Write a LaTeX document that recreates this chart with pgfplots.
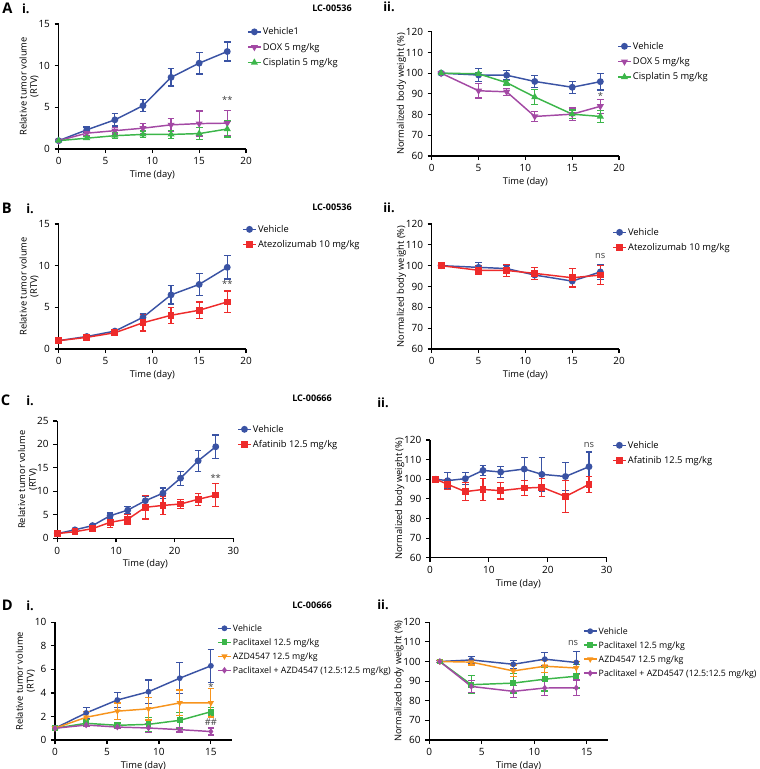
\documentclass[border=0pt]{standalone}
\usepackage{pgfplots}
\pgfplotsset{compat=1.18}
\usepackage{fontspec}
\setmainfont{Open Sans}
\newcommand\tickfont{\fontsize{7.5}{8}\selectfont}
\newcommand\labfont{\fontsize{7}{8}\selectfont}
\newcommand\legDfont{\fontsize{6.6}{8}\selectfont}
\definecolor{cblue}{HTML}{3A53A4}
\definecolor{cpurp}{HTML}{A349A4}
\definecolor{cgreen}{HTML}{3CB64A}
\definecolor{cred}{HTML}{EE2B2B}
\definecolor{corange}{HTML}{F7941D}
\definecolor{annot}{HTML}{404040}
\pgfplotsset{
  prism/.style={
    scale only axis, anchor=south west, clip=false,
    axis lines*=left, axis line style={line width=0.9pt, -},
    tick align=outside, tick pos=left, major tick length=3pt,
    major tick style={line width=0.9pt, black},
    tick label style={font=\tickfont},
    /pgf/number format/assume math mode=true,
    label style={font=\labfont},
    ylabel style={align=center, yshift=-7pt},
    xlabel style={yshift=3pt},
    legend cell align=left,
    legend style={draw=none, fill=none, font=\labfont, anchor=north west, inner sep=0pt,
      row sep=2pt, nodes={inner sep=1pt, text height=6pt, text depth=1.5pt}},
    legend image code/.code={\draw[mark repeat=2,mark phase=2] plot coordinates {(0cm,0cm) (0.17cm,0cm) (0.34cm,0cm)};},
  },
  ser/.style={color=#1, line width=1.1pt, mark size=2pt, mark options={solid, fill=#1},
    /pgfplots/error bars/y dir=both, /pgfplots/error bars/y explicit,
    /pgfplots/error bars/error bar style={line width=0.9pt, #1},
    /pgfplots/error bars/error mark options={rotate=90, mark size=2.5pt, line width=0.9pt, #1}},
}
\begin{document}
\begin{tikzpicture}
\useasboundingbox (0,0) rectangle (570pt,-576.75pt);

% ---------- A i ----------
\begin{axis}[prism, at={(44pt,-111.75pt)}, width=140.5pt, height=93.75pt,
  xmin=0, xmax=20, ymin=0, ymax=15, xtick={0,5,10,15,20}, ytick={0,5,10,15},
  xlabel={Time (day)}, ylabel={Relative tumor volume\\(RTV)},
  legend style={at={(axis description cs:1.005,0.99)}}]
\addplot[ser=cblue, mark=*] table[x=x,y=y,y error=e]{
x y e
0 1.0 0.1
3 2.3 0.35
6 3.5 0.75
9 5.2 0.7
12 8.6 1.05
15 10.3 1.3
18 11.7 1.15
};
\addlegendentry{Vehicle1}
\addplot[ser=cpurp, mark=triangle*, mark options={rotate=180}] table[x=x,y=y,y error=e]{
x y e
0 1.0 0.1
3 1.9 0.3
6 2.2 0.4
9 2.5 0.6
12 2.9 0.8
15 3.05 1.5
18 3.1 1.55
};
\addlegendentry{DOX 5 mg/kg}
\addplot[ser=cgreen, mark=triangle*] table[x=x,y=y,y error=e]{
x y e
0 1.0 0.1
3 1.3 0.2
6 1.6 0.35
9 1.75 0.4
12 1.75 0.45
15 1.85 0.7
18 2.4 0.95
};
\addlegendentry{Cisplatin 5 mg/kg}
\node[font=\labfont, text=annot] at (axis cs:18,5.9) {**};
\end{axis}

% ---------- A ii ----------
\begin{axis}[prism, at={(323.8pt,-117pt)}, width=140.5pt, height=93.2pt,
  xmin=0, xmax=20, ymin=60, ymax=120, xtick={0,5,10,15,20}, ytick={60,70,...,120},
  xlabel={Time (day)}, ylabel={Normalized body weight (\%)},
  legend style={at={(axis description cs:0.989,0.936)}}]
\addplot[ser=cblue, mark=*] table[x=x,y=y,y error=e]{
x y e
1 100 0.5
5 99.1 3.0
8 99.0 2.3
11 96.0 3.0
15 93.2 2.9
18 95.9 4.0
};
\addlegendentry{Vehicle}
\addplot[ser=cpurp, mark=triangle*, mark options={rotate=180}] table[x=x,y=y,y error=e]{
x y e
1 100 0.5
5 91.5 3.5
8 91.0 1.7
11 79.1 2.5
15 80.2 3.0
18 84.0 3.3
};
\addlegendentry{DOX 5 mg/kg}
\addplot[ser=cgreen, mark=triangle*] table[x=x,y=y,y error=e]{
x y e
1 100 0.5
5 99.7 0.5
8 95.4 1.2
11 88.5 3.5
15 80.2 2.0
18 79.1 3.0
};
\addlegendentry{Cisplatin 5 mg/kg}
\node[font=\labfont, text=annot] at (axis cs:18,89) {*};
\end{axis}

% ---------- B i ----------
\begin{axis}[prism, at={(44pt,-261.75pt)}, width=140.5pt, height=93.75pt,
  xmin=0, xmax=20, ymin=0, ymax=15, xtick={0,5,10,15,20}, ytick={0,5,10,15},
  xlabel={Time (day)}, ylabel={Relative tumor volume\\(RTV)},
  legend style={at={(axis description cs:0.979,1.01)}}]
\addplot[ser=cblue, mark=*] table[x=x,y=y,y error=e]{
x y e
0 1.0 0.1
3 1.5 0.15
6 2.15 0.15
9 3.8 0.4
12 6.5 1.1
15 7.75 1.35
18 9.8 1.4
};
\addlegendentry{Vehicle}
\addplot[ser=cred, mark=square*] table[x=x,y=y,y error=e]{
x y e
0 1.0 0.1
3 1.4 0.1
6 1.95 0.2
9 3.15 1.0
12 4.05 0.95
15 4.65 1.0
18 5.65 1.3
};
\addlegendentry{Atezolizumab 10 mg/kg}
\node[font=\labfont, text=annot] at (axis cs:18,7.8) {**};
\end{axis}

% ---------- B ii ----------
\begin{axis}[prism, at={(323.8pt,-261.75pt)}, width=140.5pt, height=93.75pt,
  xmin=0, xmax=20, ymin=60, ymax=120, xtick={0,5,10,15,20}, ytick={60,70,...,120},
  xlabel={Time (day)}, ylabel={Normalized body weight (\%)},
  legend style={at={(axis description cs:0.963,0.986)}}]
\addplot[ser=cblue, mark=*] table[x=x,y=y,y error=e]{
x y e
1 100 0.5
5 99.2 2.2
8 98.6 1.5
11 95.5 2.2
15 92.6 2.5
18 97.0 3.5
};
\addlegendentry{Vehicle}
\addplot[ser=cred, mark=square*] table[x=x,y=y,y error=e]{
x y e
1 100 0.5
5 97.8 2.2
8 97.7 3.0
11 96.3 3.0
15 94.2 4.4
18 95.5 4.5
};
\addlegendentry{Atezolizumab 10 mg/kg}
\node[font=\labfont, text=annot] at (axis cs:18,104.8) {ns};
\end{axis}

% ---------- C i ----------
\begin{axis}[prism, at={(43pt,-403.7pt)}, width=132pt, height=88pt,
  xmin=0, xmax=30, ymin=0, ymax=25, xtick={0,10,20,30}, ytick={0,5,...,25},
  xlabel={Time (day)}, ylabel={Relative tumor volume\\(RTV)},
  legend style={at={(axis description cs:1.021,0.985)}}]
\addplot[ser=cblue, mark=*] table[x=x,y=y,y error=e]{
x y e
0 1.0 0.2
3 1.8 0.2
6 2.7 0.3
9 4.8 0.6
12 6.0 0.7
15 8.0 0.9
18 9.6 1.1
21 12.8 1.5
24 16.5 2.2
27 19.5 2.5
};
\addlegendentry{Vehicle}
\addplot[ser=cred, mark=square*] table[x=x,y=y,y error=e]{
x y e
0 1.0 0.2
3 1.4 0.3
6 2.05 0.6
9 3.4 1.1
12 4.05 1.0
15 6.6 2.5
18 7.0 2.0
21 7.3 1.0
24 8.3 1.3
27 9.2 2.4
};
\addlegendentry{Afatinib 12.5 mg/kg}
\node[font=\labfont, text=annot] at (axis cs:27,12.9) {**};
\end{axis}

% ---------- C ii ----------
\begin{axis}[prism, at={(322.5pt,-418.3pt)}, width=132.5pt, height=88.3pt,
  xmin=0, xmax=30, ymin=60, ymax=120, xtick={0,10,20,30}, ytick={60,70,...,120},
  xlabel={Time (day)}, ylabel={Normalized body weight (\%)},
  legend style={at={(axis description cs:1.03,1.011)}}]
\addplot[ser=cblue, mark=*] table[x=x,y=y,y error=e]{
x y e
1 100 0.5
3 99.3 4.3
6 100.3 3.0
9 104.5 2.5
12 103.7 3.0
16 105.2 6.0
19 102.5 8.5
23 101.4 7.2
27 106.4 7.5
};
\addlegendentry{Vehicle}
\addplot[ser=cred, mark=square*] table[x=x,y=y,y error=e]{
x y e
1 100 0.5
3 97.4 2.5
6 93.7 4.7
9 94.8 5.5
12 94.2 4.3
16 95.5 3.8
19 95.9 4.5
23 91.2 8.0
27 97.4 4.2
};
\addlegendentry{Afatinib 12.5 mg/kg}
\node[font=\labfont, text=annot] at (axis cs:27,117.5) {ns};
\end{axis}

% ---------- D i ----------
\begin{axis}[prism, at={(41.25pt,-555pt)}, width=132.5pt, height=88.3pt,
  xmin=0, xmax=17, ymin=0, ymax=10, xtick={0,5,10,15}, ytick={0,2,...,10},
  xlabel={Time (day)}, ylabel={Relative tumor volume\\(RTV)},
  legend style={at={(axis description cs:0.917,1.005)}, row sep=1pt, font=\legDfont}]
\addplot[ser=cblue, mark=*, mark size=1.6pt] table[x=x,y=y,y error=e]{
x y e
0 1.0 0.1
3 2.3 0.45
6 3.4 0.65
9 4.1 1.0
12 5.25 1.3
15 6.3 1.4
};
\addlegendentry{Vehicle}
\addplot[ser=cgreen, mark=square*, mark size=1.6pt] table[x=x,y=y,y error=e]{
x y e
0 1.0 0.1
3 1.42 0.3
6 1.25 0.2
9 1.33 0.6
12 1.67 0.7
15 2.4 0.35
};
\addlegendentry{Paclitaxel 12.5 mg/kg}
\addplot[ser=corange, mark=triangle*, mark size=1.6pt, mark options={rotate=180}] table[x=x,y=y,y error=e]{
x y e
0 1.0 0.1
3 1.93 0.5
6 2.45 0.7
9 2.65 0.95
12 3.15 1.1
15 3.15 1.2
};
\addlegendentry{AZD4547 12.5 mg/kg}
\addplot[ser=cpurp, mark=diamond*, mark size=1.6pt] table[x=x,y=y,y error=e]{
x y e
0 1.0 0.1
3 1.27 0.15
6 1.1 0.15
9 1.02 0.35
12 0.88 0.2
15 0.72 0.3
};
\addlegendentry{Paclitaxel + AZD4547 (12.5:12.5 mg/kg)}
\node[font=\labfont, text=annot] at (axis cs:15,4.5) {*};
\node[font=\labfont, text=annot] at (axis cs:15,1.5) {\#\#};
\end{axis}

% ---------- D ii ----------
\begin{axis}[prism, at={(322pt,-555pt)}, width=133.8pt, height=88.3pt,
  xmin=0, xmax=17, ymin=60, ymax=120, xtick={0,5,10,15}, ytick={60,70,...,120},
  xlabel={Time (day)}, ylabel={Normalized body weight (\%)},
  legend style={at={(axis description cs:0.86,0.98)}, row sep=1pt, font=\legDfont}]
\addplot[ser=cblue, mark=*, mark size=1.6pt] table[x=x,y=y,y error=e]{
x y e
1 100 0.5
4 100.8 1.8
8 98.6 2.0
11 101.2 3.2
14 99.5 5.5
};
\addlegendentry{Vehicle}
\addplot[ser=cgreen, mark=square*, mark size=1.6pt] table[x=x,y=y,y error=e]{
x y e
1 100 0.5
4 88.2 4.5
8 89.0 5.0
11 91.0 6.0
14 92.5 6.0
};
\addlegendentry{Paclitaxel 12.5 mg/kg}
\addplot[ser=corange, mark=triangle*, mark size=1.6pt, mark options={rotate=180}] table[x=x,y=y,y error=e]{
x y e
1 100 0.5
4 99.7 1.5
8 95.2 3.0
11 97.6 3.0
14 96.7 3.5
};
\addlegendentry{AZD4547 12.5 mg/kg}
\addplot[ser=cpurp, mark=diamond*, mark size=1.6pt] table[x=x,y=y,y error=e]{
x y e
1 100 0.5
4 87.3 3.0
8 84.8 3.0
11 86.5 4.0
14 86.6 4.0
};
\addlegendentry{Paclitaxel + AZD4547 (12.5:12.5 mg/kg)}
\node[font=\labfont, text=annot] at (axis cs:13.7,109.3) {ns};
\end{axis}

% ---------- panel titles ----------
\begin{scope}[every node/.style={anchor=base west, inner sep=0pt}]
\node[font=\fontsize{11}{12}\selectfont\bfseries] at (1.5pt,-10pt) {A};
\node[font=\fontsize{9.5}{11}\selectfont\bfseries] at (16.3pt,-10pt) {i.};
\node[font=\fontsize{6.8}{8}\selectfont\bfseries] at (234pt,-8.8pt) {LC-00536};
\node[font=\fontsize{9.5}{11}\selectfont\bfseries] at (287.3pt,-8.8pt) {ii.};

\node[font=\fontsize{11}{12}\selectfont\bfseries] at (1.3pt,-160pt) {B};
\node[font=\fontsize{9.5}{11}\selectfont\bfseries] at (19.5pt,-160pt) {i.};
\node[font=\fontsize{6.8}{8}\selectfont\bfseries] at (234pt,-157.5pt) {LC-00536};
\node[font=\fontsize{9.5}{11}\selectfont\bfseries] at (287.3pt,-159.2pt) {ii.};

\node[font=\fontsize{11}{12}\selectfont\bfseries] at (0.5pt,-303.8pt) {C};
\node[font=\fontsize{9.5}{11}\selectfont\bfseries] at (19.5pt,-303.8pt) {i.};
\node[font=\fontsize{6.8}{8}\selectfont\bfseries] at (219pt,-301.3pt) {LC-00666};
\node[font=\fontsize{9.5}{11}\selectfont\bfseries] at (282.8pt,-305.3pt) {ii.};

\node[font=\fontsize{11}{12}\selectfont\bfseries] at (1.3pt,-457.5pt) {D};
\node[font=\fontsize{9.5}{11}\selectfont\bfseries] at (19.5pt,-457.5pt) {i.};
\node[font=\fontsize{6.8}{8}\selectfont\bfseries] at (219pt,-456.2pt) {LC-00666};
\node[font=\fontsize{9.5}{11}\selectfont\bfseries] at (282.8pt,-456.8pt) {ii.};
\end{scope}
\end{tikzpicture}
\end{document}
